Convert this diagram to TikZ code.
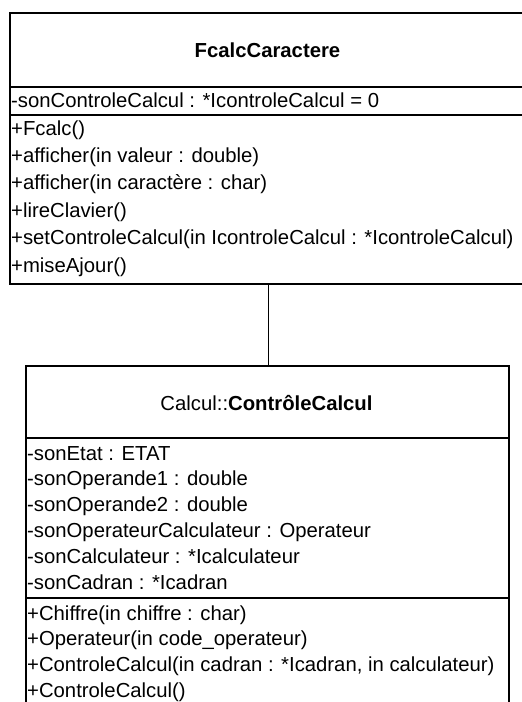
\documentclass[tikz,border=0pt]{standalone}
\usepackage{fontspec}
\setmainfont{Liberation Sans}
\begin{document}
\begin{tikzpicture}[x=1pt,y=-1pt,
  classbox/.style={draw=black, line width=1.8pt, rectangle, inner sep=0pt, anchor=north west},
  compsep/.style={draw=black, line width=1.8pt},
  member/.style={anchor=base west, inner sep=0pt, font=\fontsize{20.3}{24}\selectfont},
  classname/.style={anchor=base, inner sep=0pt, font=\fontsize{20.3}{24}\selectfont},
  assoc/.style={draw=black, line width=0.9pt}]
\useasboundingbox (0,0) rectangle (522,702);

% class FcalcCaractere
\node[classbox, minimum width=517pt, minimum height=271pt] (fcalc) at (9,12) {};
\draw[compsep] (fcalc.west |- 0,87) -- (fcalc.east |- 0,87);
\draw[compsep] (fcalc.west |- 0,115) -- (fcalc.east |- 0,115);
\node[classname] (fcalcname) at (267.5,57) {\bfseries FcalcCaractere};
\node[member] (fa1) at (11,107) {-sonControleCalcul : *IcontroleCalcul = 0};
\node[member] (fm1) at (11,135) {+Fcalc()};
\node[member] (fm2) at (11,162.4) {+afficher(in valeur : double)};
\node[member] (fm3) at (11,189.8) {+afficher(in caractère : char)};
\node[member] (fm4) at (11,217.2) {+lireClavier()};
\node[member] (fm5) at (11,244.6) {+setControleCalcul(in IcontroleCalcul : *IcontroleCalcul)};
\node[member] (fm6) at (11,272) {+miseAjour()};

% class Calcul::ContrôleCalcul
\node[classbox, minimum width=483pt, minimum height=355pt] (ctrl) at (25,365) {};
\draw[compsep] (ctrl.west |- 0,438) -- (ctrl.east |- 0,438);
\draw[compsep] (ctrl.west |- 0,598) -- (ctrl.east |- 0,598);
\node[classname] (ctrlname) at (266.5,410) {Calcul::\textbf{ContrôleCalcul}};
\node[member] (ca1) at (27,460) {-sonEtat : ETAT};
\node[member] (ca2) at (27,485.8) {-sonOperande1 : double};
\node[member] (ca3) at (27,511.6) {-sonOperande2 : double};
\node[member] (ca4) at (27,537.4) {-sonOperateurCalculateur : Operateur};
\node[member] (ca5) at (27,563.2) {-sonCalculateur : *Icalculateur};
\node[member] (ca6) at (27,589) {-sonCadran : *Icadran};
\node[member] (cm1) at (27,620) {+Chiffre(in chiffre : char)};
\node[member] (cm2) at (27,645.8) {+Operateur(in code\_operateur)};
\node[member] (cm3) at (27,671.6) {+ControleCalcul(in cadran : *Icadran, in calculateur)};
\node[member] (cm4) at (27,697.4) {+ControleCalcul()};

% association
\draw[assoc] (fcalc.south) -- (fcalc.south |- ctrl.north);
\end{tikzpicture}
\end{document}
